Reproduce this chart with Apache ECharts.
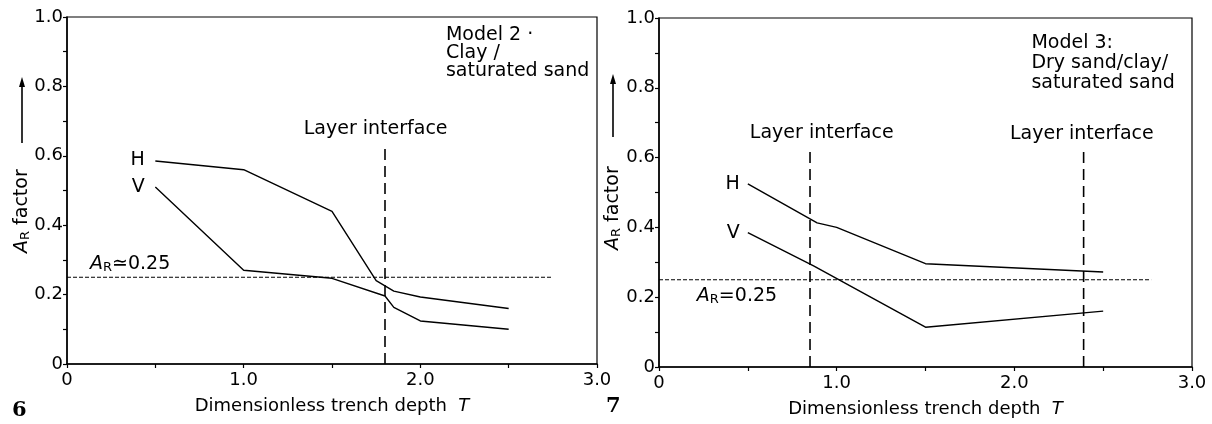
<!DOCTYPE html>
<html>
<head>
<meta charset="utf-8">
<script src="https://cdn.jsdelivr.net/npm/echarts@6/dist/echarts.min.js"></script>
<style>
html, body { margin: 0; padding: 0; background: #fff; }
#chart { width: 1212px; height: 424px; }
</style>
</head>
<body>
<div id="chart"></div>
<script>
// Fig. 6 - Model 2, clay / saturated sand
const depth6H = [0.5, 1.0, 1.5, 1.75, 1.85, 2.0, 2.5];
const ar6H = [0.585, 0.56, 0.44, 0.24, 0.21, 0.193, 0.16];
const depth6V = [0.5, 1.0, 1.5, 1.8, 1.85, 2.0, 2.5];
const ar6V = [0.51, 0.27, 0.247, 0.196, 0.163, 0.124, 0.10];
const interface6 = [1.8];
const refEnd6 = 2.75;

// Fig. 7 - Model 3, dry sand / clay / saturated sand
const depth7H = [0.5, 0.89, 1.0, 1.5, 2.5];
const ar7H = [0.525, 0.413, 0.40, 0.296, 0.272];
const depth7V = [0.5, 0.87, 1.5, 2.5];
const ar7V = [0.385, 0.29, 0.114, 0.16];
const interface7 = [0.85, 2.39];
const refEnd7 = 2.77;

const arLimit = 0.25;
const interfaceTop = 0.62;

const font = "DejaVu Sans";
const ink = "#000";

const pairs = (xs, ys) => xs.map((x, i) => [x, ys[i]]);

const subRich = {
  a: { fontStyle: "italic", fontSize: 19, fontFamily: font, color: ink },
  r: { fontSize: 13, fontFamily: font, color: ink, padding: [7, 0, 0, 0] },
};

function xAxis(gi) {
  return {
    type: "value", gridIndex: gi, min: 0, max: 3, interval: 0.5,
    name: "Dimensionless trench depth  {t|T}",
    nameLocation: "middle", nameGap: 33,
    nameTextStyle: {
      fontSize: 18, fontFamily: font, color: ink,
      rich: { t: { fontStyle: "italic", fontSize: 18, fontFamily: font, color: ink } },
    },
    axisLine: { onZero: false, lineStyle: { color: ink, width: 1.5 } },
    axisTick: { length: 4, lineStyle: { color: ink, width: 1.2 } },
    axisLabel: {
      fontSize: 18, fontFamily: font, color: ink, margin: 7,
      formatter: (v) => Math.abs(v - Math.round(v)) > 1e-6 ? "" : (v === 0 ? "0" : v.toFixed(1)),
    },
    splitLine: { show: false },
  };
}

function yAxis(gi) {
  return {
    type: "value", gridIndex: gi, min: 0, max: 1, interval: 0.1,
    axisLine: { onZero: false, lineStyle: { color: ink, width: 1.5 } },
    axisTick: { length: 4, lineStyle: { color: ink, width: 1.2 } },
    axisLabel: {
      fontSize: 18, fontFamily: font, color: ink, margin: 4,
      formatter: (v) => Math.round(v * 10) % 2 ? "" : (v === 0 ? "0" : v.toFixed(1)),
    },
    splitLine: { show: false },
  };
}

function curve(gi, data) {
  return {
    type: "line", xAxisIndex: gi, yAxisIndex: gi, data: data,
    symbol: "none", silent: true,
    lineStyle: { color: ink, width: 1.4 },
  };
}

function refLine(gi, end) {
  return {
    type: "line", xAxisIndex: gi, yAxisIndex: gi,
    data: [[0, arLimit], [end, arLimit]],
    symbol: "none", silent: true,
    lineStyle: { color: ink, width: 1, type: [4, 2] },
  };
}

function interfaceLines(gi, xs) {
  return xs.map((x) => ({
    type: "line", xAxisIndex: gi, yAxisIndex: gi,
    data: [[x, 0], [x, interfaceTop]],
    symbol: "none", silent: true,
    lineStyle: { color: ink, width: 1.6, type: [11, 6] },
  }));
}

function notes(gi, items) {
  return {
    type: "scatter", xAxisIndex: gi, yAxisIndex: gi, symbolSize: 0, silent: true,
    itemStyle: { opacity: 1, color: ink },
    data: items.map((n) => ({
      value: n.at,
      label: {
        show: true, position: "inside", formatter: n.text,
        align: n.align || "center", verticalAlign: "middle",
        fontSize: 19, fontFamily: font, color: ink,
        lineHeight: n.lh || 19, rich: subRich,
      },
    })),
  };
}

const notes6 = [
  { text: "H", at: [0.44, 0.589], align: "right" },
  { text: "V", at: [0.44, 0.509], align: "right" },
  { text: "{a|A}{r|R}≃0.25", at: [0.13, 0.287], align: "left" },
  { text: "Layer interface", at: [1.747, 0.678] },
  { text: "Model 2 ·\nClay /\nsaturated sand", at: [2.145, 0.897], align: "left", lh: 18 },
];

const notes7 = [
  { text: "H", at: [0.455, 0.524], align: "right" },
  { text: "V", at: [0.455, 0.384], align: "right" },
  { text: "{a|A}{r|R}=0.25", at: [0.213, 0.203], align: "left" },
  { text: "Layer interface", at: [0.916, 0.67] },
  { text: "Layer interface", at: [2.38, 0.668] },
  { text: "Model 3:\nDry sand/clay/\nsaturated sand", at: [2.096, 0.871], align: "left", lh: 20 },
];

function yName(x, y, arrowFrom, arrowTo) {
  return {
    type: "group", x: x, y: y, rotation: Math.PI / 2, silent: true,
    children: [
      {
        type: "text", x: 0, y: 0,
        style: {
          text: "{a|A}{r|R} {b|factor}", align: "left", verticalAlign: "middle",
          fontSize: 19, fontFamily: font, fill: ink,
          rich: {
            a: { fontStyle: "italic", fontSize: 19, fontFamily: font, fill: ink },
            r: { fontSize: 13, fontFamily: font, fill: ink, padding: [7, 0, 0, 0] },
            b: { fontSize: 19, fontFamily: font, fill: ink },
          },
        },
      },
      { type: "line", shape: { x1: arrowFrom, y1: 0, x2: arrowTo - 8, y2: 0 }, style: { stroke: ink, lineWidth: 1.6 } },
      { type: "polygon", shape: { points: [[arrowTo, 0], [arrowTo - 10, -3], [arrowTo - 10, 3]] }, style: { fill: ink } },
    ],
  };
}

const option = {
  animation: false,
  backgroundColor: "#fff",
  grid: [
    { left: 67, top: 17, width: 530, height: 347, show: true, borderColor: ink, borderWidth: 1.2 },
    { left: 659, top: 18, width: 533, height: 349, show: true, borderColor: ink, borderWidth: 1.2 },
  ],
  xAxis: [xAxis(0), xAxis(1)],
  yAxis: [yAxis(0), yAxis(1)],
  series: [
    curve(0, pairs(depth6H, ar6H)),
    curve(0, pairs(depth6V, ar6V)),
    refLine(0, refEnd6),
    ...interfaceLines(0, interface6),
    notes(0, notes6),
    curve(1, pairs(depth7H, ar7H)),
    curve(1, pairs(depth7V, ar7V)),
    refLine(1, refEnd7),
    ...interfaceLines(1, interface7),
    notes(1, notes7),
  ],
  graphic: [
    yName(22, 253, 110, 176),
    yName(613, 250, 113, 176),
    { type: "text", x: 12, y: 400, style: { text: "6", fontSize: 21, fontWeight: "bold", fontFamily: "DejaVu Serif", fill: ink } },
    { type: "text", x: 606, y: 396, style: { text: "7", fontSize: 21, fontWeight: "bold", fontFamily: "DejaVu Serif", fill: ink } },
  ],
};

const myChart = echarts.init(document.getElementById("chart"));
myChart.setOption(option);
</script>
</body>
</html>
